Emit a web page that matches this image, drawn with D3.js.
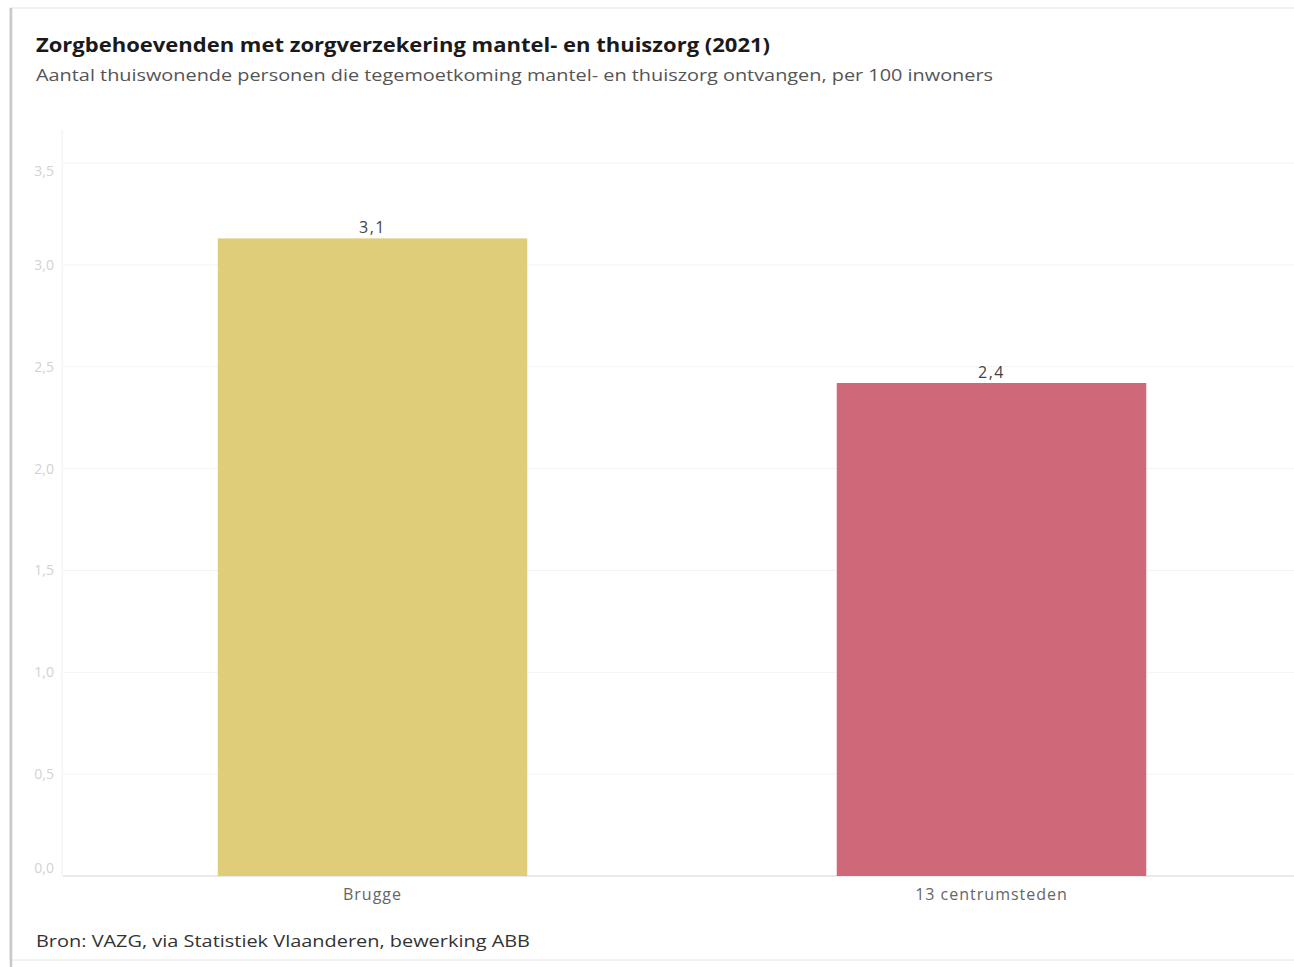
<!DOCTYPE html>
<html><head><meta charset="utf-8">
<script src="https://cdn.jsdelivr.net/npm/d3@7"></script>
<style>html,body{margin:0;padding:0;background:#fff;}svg{display:block;}</style>
</head><body>
<svg id="c" width="1294" height="967"></svg>
<script>
const categories = ["Brugge", "13 centrumsteden"];
const values = [3.13, 2.42];
const valueLabels = ["3,1", "2,4"];
const colors = ["#dfcd7a", "#cf6878"];
const yTicks = [0, 0.5, 1.0, 1.5, 2.0, 2.5, 3.0, 3.5];
const title = "Zorgbehoevenden met zorgverzekering mantel- en thuiszorg (2021)";
const subtitle = "Aantal thuiswonende personen die tegemoetkoming mantel- en thuiszorg ontvangen, per 100 inwoners";
const source = "Bron: VAZG, via Statistiek Vlaanderen, bewerking ABB";

(function () {
const svg = d3.select("#c");
const font = "'Open Sans', sans-serif";

// card frame
svg.append("rect").attr("x", 10).attr("y", 8).attr("width", 1300).attr("height", 952)
  .attr("fill", "#fff").attr("stroke", "#e4e4e4").attr("stroke-width", 1);
svg.append("line").attr("x1", 11).attr("x2", 11).attr("y1", 8).attr("y2", 967)
  .attr("stroke", "#c8c8c8").attr("stroke-width", 2.5);

const pLeft = 63, pRight = 1301, pTop = 163, pBottom = 876;
const x = d3.scaleBand().domain(categories).range([pLeft, pRight]).paddingInner(0.5).paddingOuter(0.25);
const y = d3.scaleLinear().domain([0, 3.5]).range([pBottom, pTop]);

// plot left edge & gridlines
svg.append("line").attr("x1", pLeft - 1).attr("x2", pLeft - 1).attr("y1", 130).attr("y2", pBottom)
  .attr("stroke", "#eeeeee");
svg.append("g").selectAll("line").data(yTicks).join("line")
  .attr("x1", pLeft).attr("x2", 1294).attr("y1", d => y(d)).attr("y2", d => y(d))
  .attr("stroke", d => d === 0 ? "#e2e2e2" : "#f3f3f3").attr("stroke-width", d => d === 0 ? 1.5 : 1);

// y axis labels
const fmt = d => d.toFixed(1).replace(".", ",");
svg.append("g").selectAll("text").data(yTicks).join("text")
  .attr("x", 54).attr("y", d => y(d) + 5 + (d === 3.5 ? 8 : d === 0 ? -8 : 0)).attr("text-anchor", "end")
  .attr("font-family", font).attr("font-size", 14).attr("fill", "#d2d2d2")
  .text(fmt);

// bars
svg.append("g").selectAll("rect").data(values).join("rect")
  .attr("x", (d, i) => x(categories[i])).attr("width", x.bandwidth())
  .attr("y", d => y(d)).attr("height", d => pBottom - y(d))
  .attr("fill", (d, i) => colors[i]);

// value labels
svg.append("g").selectAll("text").data(values).join("text")
  .attr("x", (d, i) => x(categories[i]) + x.bandwidth() / 2).attr("y", d => y(d) - 5)
  .attr("text-anchor", "middle").attr("font-family", font).attr("font-size", 16)
  .attr("letter-spacing", 1.5).attr("fill", "#444")
  .text((d, i) => valueLabels[i]);

// x labels
svg.append("g").selectAll("text").data(categories).join("text")
  .attr("x", d => x(d) + x.bandwidth() / 2).attr("y", 900)
  .attr("text-anchor", "middle").attr("font-family", font).attr("font-size", 16)
  .attr("letter-spacing", 1).attr("fill", "#666")
  .text(d => d);

// titles
svg.append("text").attr("x", 36).attr("y", 52).attr("font-family", font).attr("font-weight", 700)
  .attr("font-size", 19).attr("fill", "#1a1a1a").attr("textLength", 734).attr("lengthAdjust", "spacingAndGlyphs")
  .text(title);
svg.append("text").attr("x", 36).attr("y", 81).attr("font-family", font)
  .attr("font-size", 16).attr("fill", "#555").attr("textLength", 957).attr("lengthAdjust", "spacingAndGlyphs")
  .text(subtitle);
svg.append("text").attr("x", 36).attr("y", 947).attr("font-family", font)
  .attr("font-size", 16).attr("fill", "#333").attr("textLength", 494).attr("lengthAdjust", "spacingAndGlyphs")
  .text(source);
})();
</script>
</body></html>
